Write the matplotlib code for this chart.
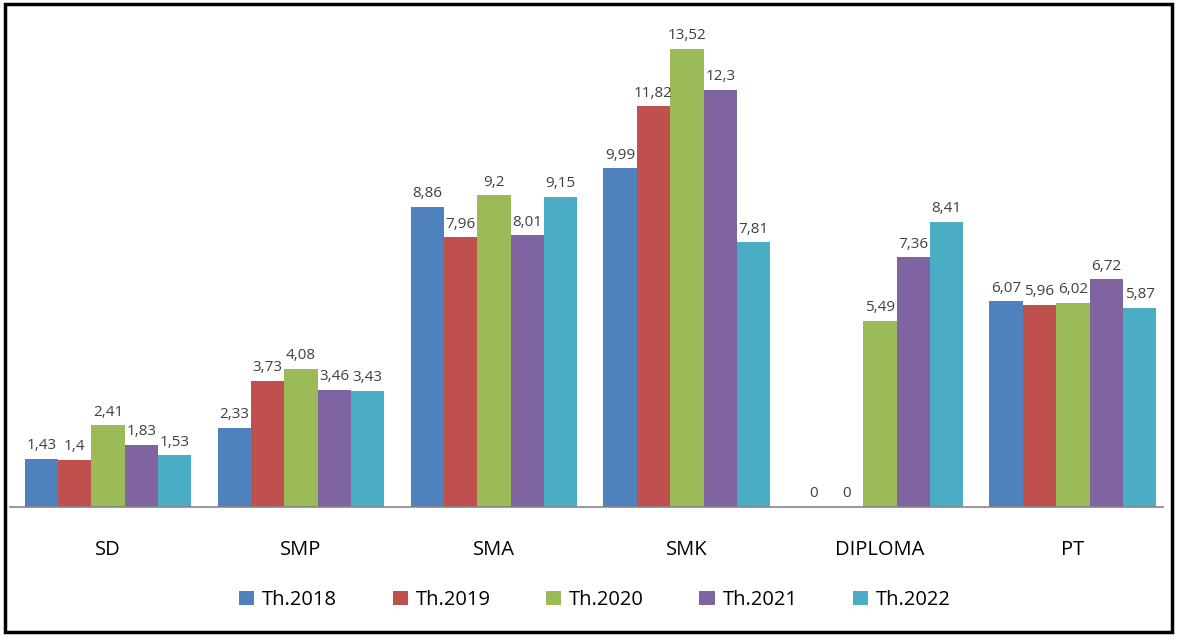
import matplotlib
matplotlib.use("Agg")
import matplotlib.pyplot as plt
import numpy as np
from matplotlib.patches import Rectangle

categories = ["SD", "SMP", "SMA", "SMK", "DIPLOMA", "PT"]
series_names = ["Th.2018", "Th.2019", "Th.2020", "Th.2021", "Th.2022"]
th2018 = [1.43, 2.33, 8.86, 9.99, 0, 6.07]
th2019 = [1.4, 3.73, 7.96, 11.82, 0, 5.96]
th2020 = [2.41, 4.08, 9.2, 13.52, 5.49, 6.02]
th2021 = [1.83, 3.46, 8.01, 12.3, 7.36, 6.72]
th2022 = [1.53, 3.43, 9.15, 7.81, 8.41, 5.87]
colors = ["#4F81BD", "#C0504D", "#9BBB59", "#8064A2", "#4BACC6"]

plt.rcParams['font.family'] = ['Open Sans', 'DejaVu Sans']

W, H = 1179, 640
fig = plt.figure(figsize=(W / 100, H / 100), dpi=100)
ax = fig.add_axes([10 / W, (H - 507) / H, (1163 - 10) / W, (507 - 10) / H])

data = [th2018, th2019, th2020, th2021, th2022]
x = np.arange(len(categories))
bw = 0.173
for i, (vals, name, c) in enumerate(zip(data, series_names, colors)):
    pos = x + (i - 2) * bw
    ax.bar(pos, vals, width=bw, color=c, label=name, linewidth=0)
    for p, v in zip(pos, vals):
        lbl = ("%g" % v).replace(".", ",")
        ax.annotate(lbl, (p, v), xytext=(0, 4), textcoords="offset points",
                    ha="center", va="bottom", fontsize=11, color="#404040")

ax.set_xlim(-0.508, 5.467)
ax.set_ylim(0, 14.66)
ax.set_yticks([])
ax.set_xticks(x)
ax.set_xticklabels(categories, fontsize=14.5, color="#000000")
ax.tick_params(axis="x", length=0, pad=24)
for s in ["top", "right", "left"]:
    ax.spines[s].set_visible(False)
ax.spines["bottom"].set_color("#868686")
ax.spines["bottom"].set_linewidth(1.2)

fig.legend(loc="center", bbox_to_anchor=(595 / W, 1 - 600 / H), ncol=5, frameon=False,
           fontsize=14.5, handlelength=0.75, handleheight=0.75, handletextpad=0.4,
           columnspacing=2.75)

fig.patches.append(Rectangle((5 / W, 8 / H), (1172 - 5) / W, (636 - 8) / H,
                             transform=fig.transFigure, fill=False,
                             edgecolor="black", linewidth=2.5))

fig.savefig("out.png", dpi=100, facecolor="white")
